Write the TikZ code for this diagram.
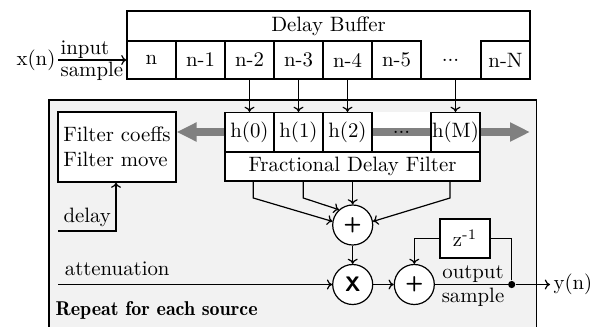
\documentclass[tikz,border=0pt]{standalone}
\usetikzlibrary{arrows.meta}
\begin{document}
\begin{tikzpicture}[x=0.5pt,y=-0.5pt,
  font=\fontsize{10.4}{12.5}\selectfont,
  line width=0.6pt,
  >={To[length=2.6pt,width=5pt]},
  cell/.style={draw, minimum width=24.5pt, minimum height=19pt, inner sep=0pt},
  hcell/.style={draw, fill=white, minimum width=24.5pt, minimum height=19.5pt, inner sep=0pt},
  opnode/.style={circle, draw, fill=white, minimum size=20pt, inner sep=0pt,
    font=\sffamily\bfseries\fontsize{10.5}{12}\selectfont},
  lab/.style={inner sep=0pt},
  gband/.style={line width=4pt, draw=black!50},
  garrow/.style={gband, -{Triangle[length=10pt,width=9pt]}},
]
\clip (0,0) rectangle (606,327);

% panel holding the per-source processing
\path[draw, fill=black!5] (49,100) rectangle (536.5,345);

% delay buffer
\node[draw, fill=white, minimum width=201.5pt, minimum height=34pt, inner sep=0pt] (buf) at (328.5,45) {};
\node (buftitle) at (328.5,26) {Delay Buffer};
\node[cell] (b0) at (151.5,60) {n};
\node[cell] (b1) at (200.5,60) {n-1};
\node[cell] (b2) at (249.5,60) {n-2};
\node[cell] (b3) at (298.5,60) {n-3};
\node[cell] (b4) at (347.5,60) {n-4};
\node[cell] (b5) at (396.5,60) {n-5};
\node[inner sep=0pt, minimum height=19pt] (bdots) at (450.5,60) {...};
\node[cell] (bN) at (505.5,60) {n-N};

% input
\node[anchor=east, inner sep=1pt] (xin) at (58,60) {x(n)};
\draw[->] (xin) -- (b0);
\node[lab, anchor=base west] (inlab) at (60,54) {input};
\node[lab, anchor=base west] (smlab) at (60,76) {sample};

% fractional delay filter
\node[fill=white, minimum width=127.5pt, minimum height=34.5pt, inner sep=0pt] (fdblock) at (352.5,146.75) {};
\node[draw, minimum width=127.5pt, minimum height=14.5pt, inner sep=0pt] (fd) at (352.5,166.5) {Fractional Delay Filter};
\node[hcell] (h0) at (249.5,132) {h(0)};
\node[hcell] (h1) at (298.5,132) {h(1)};
\node[hcell] (h2) at (347.5,132) {h(2)};
\node[hcell] (hM) at (455.5,132) {h(M)};

% coefficient box
\node[draw, fill=white, minimum width=59pt, minimum height=35pt, align=left, inner sep=2pt] (coef) at (117,147) {Filter coeffs\\Filter move};

% coefficient transfer band
\coordinate (gend) at (530,132);
\draw[garrow] (h0.west) -- (h0.west -| coef.east);
\draw[gband] (h2.east) -- (hM.west);
\draw[garrow] (hM.east) -- (gend);
\node[inner sep=0pt] (hdots) at (401.5,132) {...};

% buffer taps
\draw[->] (b2) -- (h0);
\draw[->] (b3) -- (h1);
\draw[->] (b4) -- (h2);
\draw[->] (hM.north |- buf.south) -- (hM);

% delay input
\coordinate (dl0) at (58,231);
\coordinate (dl1) at (116,231);
\draw[->] (dl0) -- (dl1) -- (dl1 |- coef.south);
\node[lab, anchor=base east] (dlab) at (111.5,222) {delay};

% summation, gain and accumulation
\node[opnode] (sum) at (352.7,225) {+};
\node[opnode] (mul) at (352.7,284.5) {X};
\node[opnode] (add) at (414.3,284.5) {+};

\coordinate (t0) at (253.3,198);
\coordinate (t1) at (303.3,198);
\coordinate (t3) at (450,198);
\draw[->] (fd.south -| t0) -- (t0) -- (sum.170);
\draw[->] (fd.south -| t1) -- (t1) -- (sum.132);
\draw[->] (fd.south -| sum) -- (sum);
\draw[->] (fd.south -| t3) -- (t3) -- (sum.10);

\draw[->] (sum) -- (mul);
\coordinate (at0) at (58,284.5);
\draw[->] (at0) -- (mul);
\node[lab, anchor=base west] (atlab) at (64.3,275) {attenuation};
\draw[->] (mul) -- (add);

% output and feedback
\node[circle, fill, inner sep=0pt, minimum size=3.6pt] (tap) at (511.7,284.5) {};
\node[anchor=west, inner sep=1.5pt] (yout) at (550,284.5) {y(n)};
\draw (add) -- (tap);
\draw[->] (tap) -- (yout);
\node[draw, fill=white, minimum width=25pt, minimum height=19.5pt, inner sep=0pt] (zbox) at (465,238.5) {z\textsuperscript{-1}};
\draw (tap) -- (tap |- zbox.east) -- (zbox.east);
\draw[->] (zbox.west) -| (add.north);
\node[lab, anchor=base] (outlab) at (473,278.5) {output};
\node[lab, anchor=base] (outlab2) at (473,302) {sample};

% panel caption
\node[lab, anchor=base west, font=\fontseries{b}\fontsize{10}{12}\selectfont] (cap) at (55,315) {Repeat for each source};
\end{tikzpicture}
\end{document}
